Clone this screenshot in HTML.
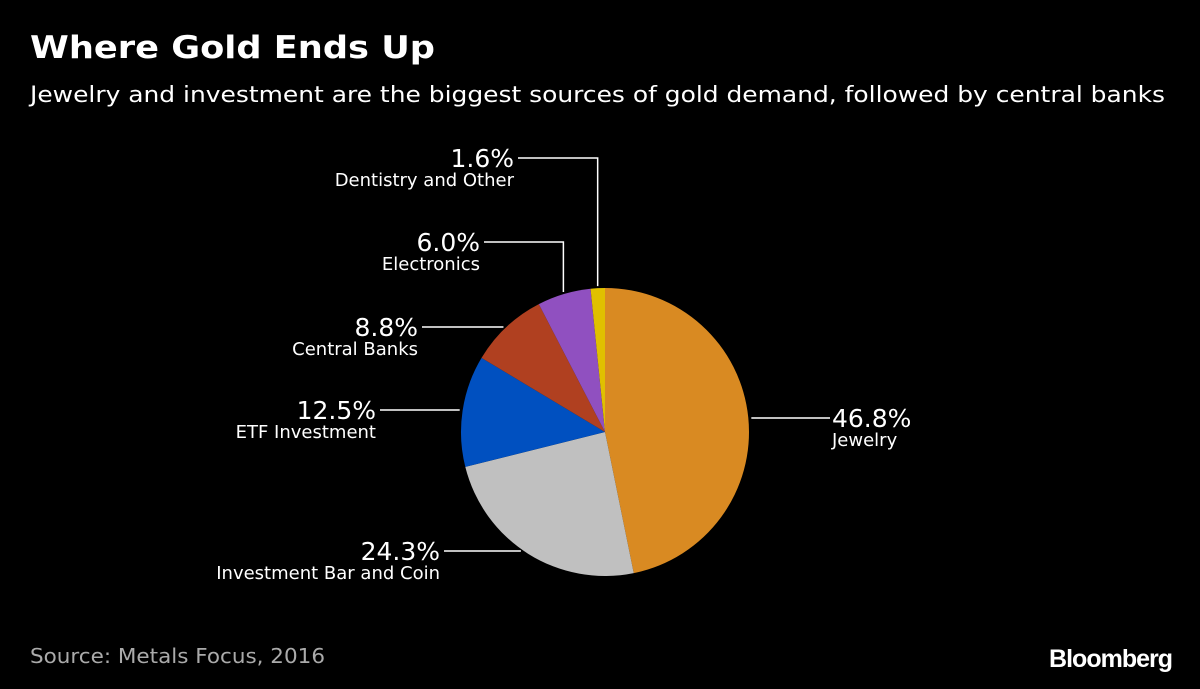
<!DOCTYPE html>
<html><head><meta charset="utf-8"><style>
body{margin:0;background:#000;width:1200px;height:685px;overflow:hidden;font-family:"DejaVu Sans","Liberation Sans",sans-serif;}
</style></head><body>
<svg width="1200" height="685" xmlns="http://www.w3.org/2000/svg" font-family="DejaVu Sans, Liberation Sans, sans-serif">
<text x="30" y="58" fill="#fff" font-size="31" font-weight="bold" textLength="405" lengthAdjust="spacingAndGlyphs">Where Gold Ends Up</text>
<text x="30" y="102" fill="#fff" font-size="22" textLength="1135" lengthAdjust="spacingAndGlyphs">Jewelry and investment are the biggest sources of gold demand, followed by central banks</text>
<g id="pie"></g>
<g id="labels"></g>
<text x="30" y="663" fill="#aaa" font-size="20" textLength="295" lengthAdjust="spacingAndGlyphs">Source: Metals Focus, 2016</text>
<text x="1172" y="667" fill="#fff" font-size="25" font-weight="bold" text-anchor="end" font-family="Liberation Sans, sans-serif" letter-spacing="-1">Bloomberg</text>
</svg>
<script>
const categories=["Jewelry","Investment Bar and Coin","ETF Investment","Central Banks","Electronics","Dentistry and Other"];
const values=[46.8,24.3,12.5,8.8,6.0,1.6];
const valueLabels=["46.8%","24.3%","12.5%","8.8%","6.0%","1.6%"];
const colors=["#d98a22","#c0c0c0","#0050c0","#b04020","#9050c0","#e0c000"];
const cx=605,cy=432,r=144;
const NS="http://www.w3.org/2000/svg";
const pie=document.getElementById('pie'),lab=document.getElementById('labels');
const total=values.reduce((a,b)=>a+b,0);
function pt(a,rr){return [cx+rr*Math.sin(a),cy-rr*Math.cos(a)];}
const layout=[[1,418,830],[-1,551,444],[-1,410,380],[-1,327,422],[-1,242,484],[-1,158,518]];
let acc=0;
values.forEach((v,i)=>{
  const a0=acc/total*2*Math.PI;acc+=v;const a1=acc/total*2*Math.PI;
  const p0=pt(a0,r),p1=pt(a1,r);const large=(a1-a0)>Math.PI?1:0;
  const p=document.createElementNS(NS,'path');
  p.setAttribute('d',`M${cx},${cy}L${p0[0]},${p0[1]}A${r},${r} 0 ${large} 1 ${p1[0]},${p1[1]}Z`);
  p.setAttribute('fill',colors[i]);
  
  
  pie.appendChild(p);
  const mid=(a0+a1)/2;const [side,ly,lx]=layout[i];
  const dy=ly-cy;
  let ex;
  if(Math.abs(dy)<r){ex=cx+side*Math.sqrt(r*r-dy*dy);}
  const line=document.createElementNS(NS,'path');
  let d;
  if(ex!==undefined && ((side>0&&mid<Math.PI)||(side<0&&Math.abs(ex-pt(mid,r)[0])<60))){
    d=`M${lx},${ly}L${ex+side*3},${ly}`;
  } else {
    const m=pt(mid,r+2);d=`M${lx},${ly}L${m[0]},${ly}L${m[0]},${m[1]}`;
  }
  line.setAttribute('d',d);line.setAttribute('stroke','#fff');line.setAttribute('stroke-width','1.5');line.setAttribute('fill','none');
  
  
  lab.appendChild(line);
  const anchor=side>0?'start':'end';const tx=side>0?lx+2:lx-4;
  const t1=document.createElementNS(NS,'text');
  t1.setAttribute('x',tx);t1.setAttribute('y',ly+9);t1.setAttribute('fill','#fff');t1.setAttribute('font-size','25');t1.setAttribute('text-anchor',anchor);
  t1.textContent=valueLabels[i];
  
  
  lab.appendChild(t1);
  const t2=document.createElementNS(NS,'text');
  t2.setAttribute('x',tx);t2.setAttribute('y',ly+28);t2.setAttribute('fill','#fff');t2.setAttribute('font-size','18');t2.setAttribute('text-anchor',anchor);
  t2.textContent=categories[i];
  
  
  lab.appendChild(t2);
});
</script>
</body></html>
